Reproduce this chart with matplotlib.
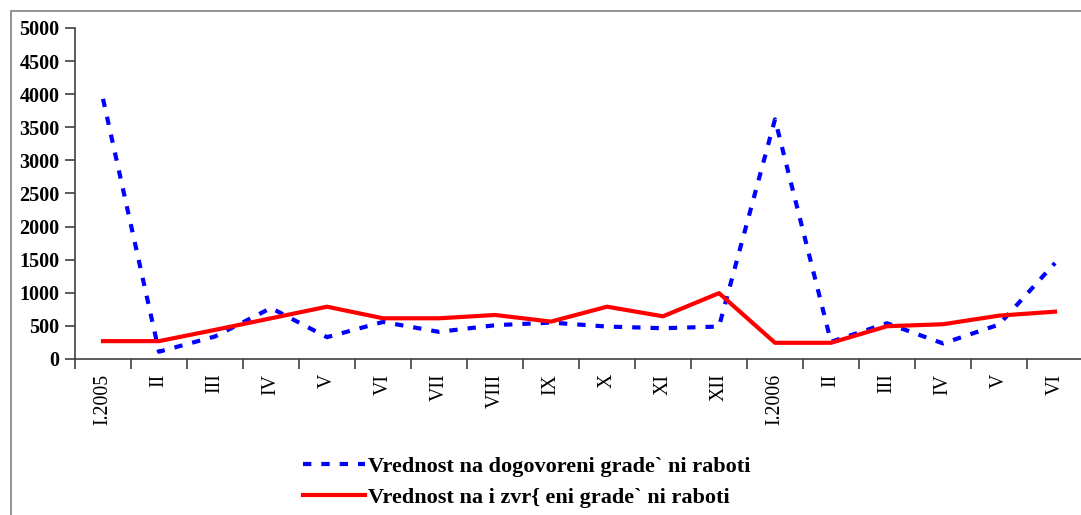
import matplotlib.pyplot as plt
from matplotlib.patches import Rectangle

# monthly values, Jan 2005 - Jun 2006
months = ['I.2005', 'II', 'III', 'IV', 'V', 'VI', 'VII', 'VIII', 'IX', 'X',
          'XI', 'XII', 'I.2006', 'II', 'III', 'IV', 'V', 'VI']
contracted = [3930, 110, 340, 770, 330, 560, 410, 510, 550, 490,
              465, 490, 3620, 260, 540, 235, 520, 1450]
completed = [270, 270, 440, 615, 790, 615, 615, 665, 565, 790,
             645, 995, 245, 245, 495, 525, 655, 715]
yticks = [0, 500, 1000, 1500, 2000, 2500, 3000, 3500, 4000, 4500, 5000]

label_blue = 'Vrednost na dogovoreni grade` ni raboti'
label_red = 'Vrednost na i zvr{ eni grade` ni raboti'

W, H = 1081, 515
fig = plt.figure(figsize=(W / 100, H / 100), dpi=100)

# outer chart-area border (cropped on right and bottom)
fig.patches.append(Rectangle((10.5 / W, -0.1), 1.2, 1 - 10.5 / H + 0.1,
                             transform=fig.transFigure, fill=False,
                             edgecolor='#808080', linewidth=1.2))

ax = fig.add_axes([75 / W, (H - 359) / H, 1008 / W, 331 / H])

x = list(range(len(months)))
ax.plot(x, contracted, color='blue', linewidth=3, dashes=(2, 2.4),
        label=label_blue)
ax.plot(x, completed, color='red', linewidth=3, label=label_red)

ax.set_xlim(-0.5, len(months) - 0.5)
ax.set_ylim(0, 5000)
ax.set_yticks(yticks)
ax.set_yticklabels([str(v) for v in yticks], fontfamily='Liberation Serif',
                   fontweight='bold', fontsize=14.5)
ax.set_xticks([i + 0.5 for i in range(-1, len(months))], minor=False)
ax.set_xticklabels([])
ax.set_xticks(x, minor=True)
ax.set_xticklabels(months, minor=True, rotation=90, fontfamily='Liberation Serif',
                   fontsize=14.3)
ax.tick_params(axis='x', which='minor', length=0, pad=10.5)
ax.tick_params(axis='x', which='major', length=7, width=1.2, color='#404040',
               direction='out')
ax.tick_params(axis='y', length=7, width=1.2, color='#404040', direction='out',
               pad=4)

for s in ['top', 'right']:
    ax.spines[s].set_visible(False)
for s in ['left', 'bottom']:
    ax.spines[s].set_color('#404040')
    ax.spines[s].set_linewidth(1.2)

fig.legend(loc='center left', bbox_to_anchor=(303 / W, 1 - 482 / H),
           frameon=False,
           prop={'family': 'Liberation Serif', 'size': 16, 'weight': 'bold'},
           handlelength=2.8, handletextpad=0.12, labelspacing=0.45,
           borderpad=0, borderaxespad=0)

fig.savefig('out.png', dpi=100)
